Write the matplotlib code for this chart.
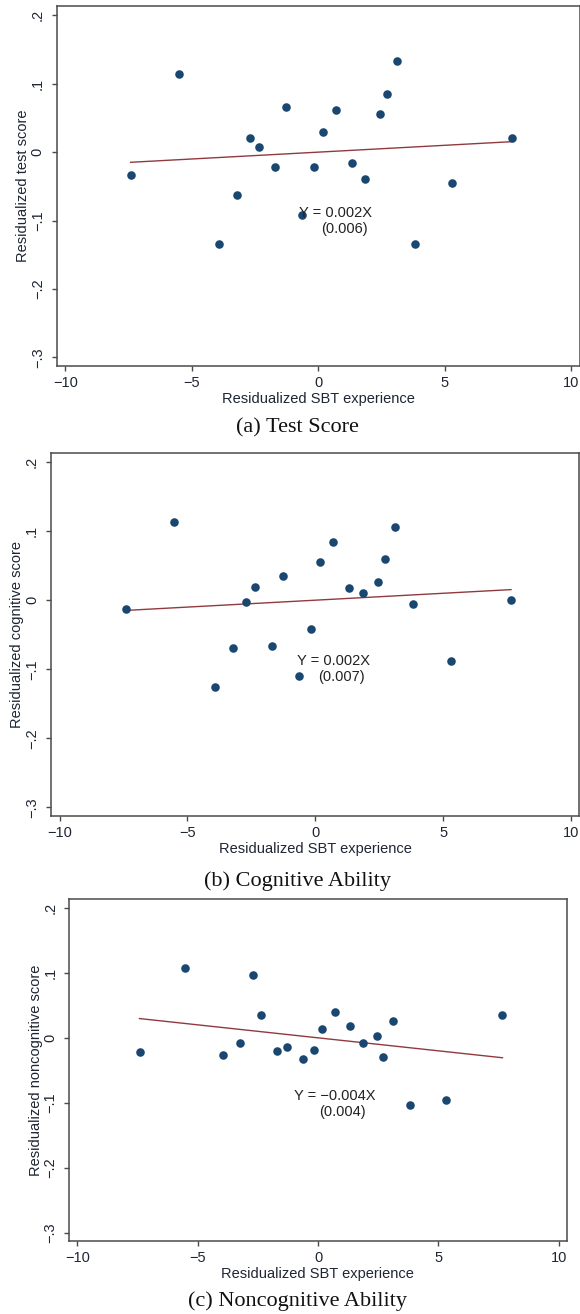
import numpy as np
import matplotlib
matplotlib.use('Agg')
import matplotlib.pyplot as plt

plt.rcParams['font.family'] = ['Liberation Sans', 'DejaVu Sans']

# residualized SBT experience (same units in every panel)
sbt_x = [-7.42, -5.51, -3.94, -3.23, -2.71, -2.36, -1.71, -1.28, -0.64, -0.15,
         0.18, 0.71, 1.33, 1.86, 2.44, 2.71, 3.11, 3.81, 5.30, 7.66]

test_y = [-0.033, 0.114, -0.134, -0.063, 0.021, 0.007, -0.021, 0.066, -0.092, -0.022,
          0.030, 0.062, -0.016, -0.039, 0.056, 0.085, 0.134, -0.134, -0.045, 0.020]
cog_y = [-0.013, 0.114, -0.126, -0.070, -0.002, 0.019, -0.066, 0.035, -0.110, -0.042,
         0.056, 0.084, 0.017, 0.010, 0.026, 0.060, 0.106, -0.006, -0.088, 0.000]
noncog_y = [-0.022, 0.107, -0.026, -0.008, 0.097, 0.035, -0.020, -0.014, -0.033, -0.019,
            0.013, 0.040, 0.018, -0.008, 0.003, -0.029, 0.026, -0.103, -0.096, 0.035]

panel_y = [test_y, cog_y, noncog_y]
slopes = [0.002, 0.002, -0.004]
std_errs = [0.006, 0.007, 0.004]
y_titles = ['Residualized test score', 'Residualized cognitive score',
            'Residualized noncognitive score']
captions = ['(a) Test Score', '(b) Cognitive Ability', '(c) Noncognitive Ability']
eq_pos = [(0.68, -0.089, 1.03, -0.113), (0.70, -0.088, 1.04, -0.112),
          (0.69, -0.090, 1.02, -0.1135)]

xticks = [-10, -5, 0, 5, 10]
xtick_labels = ['\u221210', '\u22125', '0', '5', '10']
yticks = [-0.3, -0.2, -0.1, 0, 0.1, 0.2]
ytick_labels = ['\u2212.3', '\u2212.2', '\u2212.1', '0', '.1', '.2']

W, H = 580, 1314
# axes boxes in pixels: left, right, top, bottom
boxes = [(56.5, 579.5, 6, 366), (50.7, 579.3, 452.7, 816), (69, 566.7, 899, 1241)]
caption_y = [428.3, 881, 1300.7]

navy = '#1a476f'
maroon = '#8f3a3f'
frame = '#4a4a4a'

fig = plt.figure(figsize=(W / 100, H / 100), dpi=100)

for i in range(3):
    l, r, t, b = boxes[i]
    ax = fig.add_axes([l / W, 1 - b / H, (r - l) / W, (b - t) / H])
    x = np.array(sbt_x)
    y = np.array(panel_y[i])
    ax.scatter(x, y, s=38, color=navy, zorder=3, linewidths=0)
    xs = np.array([x.min(), x.max()])
    ax.plot(xs, slopes[i] * xs, color=maroon, lw=1.0, zorder=2)

    ex, ey, sx, sy = eq_pos[i]
    eq = 'Y = %.3fX' % slopes[i]
    ax.text(ex, ey, eq.replace('-', '\u2212'), ha='center', va='center',
            fontsize=10.5, color='#222222', zorder=4)
    ax.text(sx, sy, '(%.3f)' % std_errs[i], ha='center', va='center',
            fontsize=10.5, color='#222222', zorder=4)

    ax.set_xlim(-10.35, 10.33)
    ax.set_ylim(-0.3127, 0.2137)
    ax.set_xticks(xticks)
    ax.set_xticklabels(xtick_labels)
    ax.set_yticks(yticks)
    ax.set_yticklabels(ytick_labels, rotation=90, va='center')
    ax.tick_params(axis='both', direction='out', length=3.4, width=1.0,
                   color=frame, labelsize=10.5, labelcolor='#1e2533')
    ax.tick_params(axis='x', pad=3.5)
    ax.tick_params(axis='y', pad=5.0)
    for sp in ax.spines.values():
        sp.set_color(frame)
        sp.set_linewidth(1.1)
    ax.set_xlabel('Residualized SBT experience', fontsize=10.5, labelpad=2,
                  color='#1e2533')
    ax.set_ylabel(y_titles[i], fontsize=10.5, labelpad=0.5, color='#1e2533')

    fig.text(297 / W, 1 - caption_y[i] / H, captions[i], ha='center', va='center',
             fontsize=16, family='Liberation Serif', color='#111111')

fig.savefig('out.png', dpi=100, facecolor='white')
